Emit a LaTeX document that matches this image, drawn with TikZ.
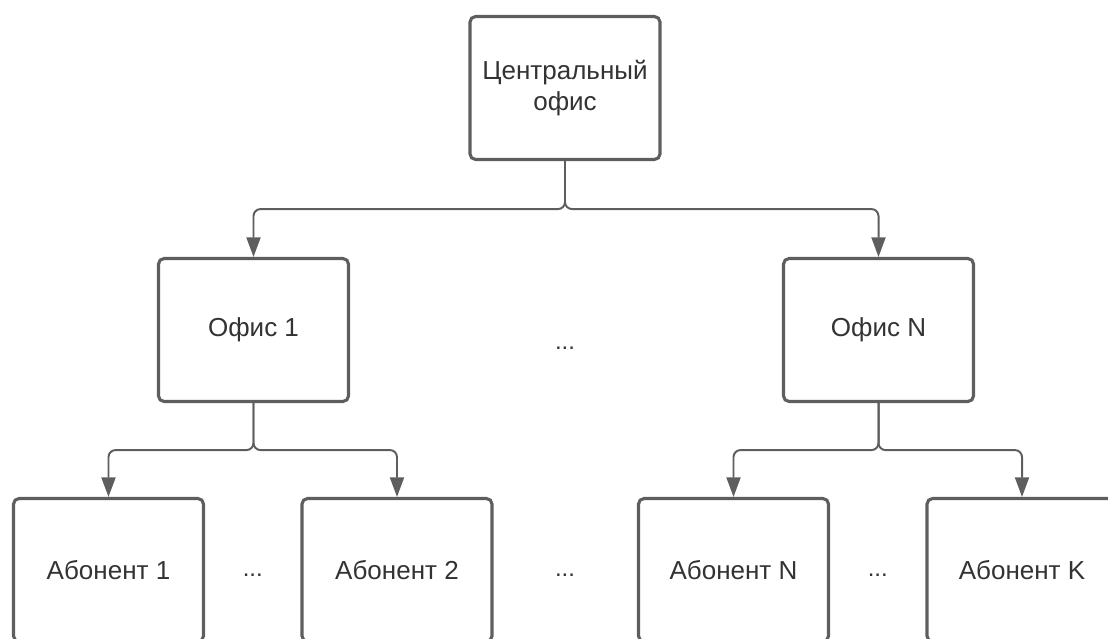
\documentclass[tikz,border=0pt]{standalone}
\usepackage{fontspec}
\setmainfont{Liberation Sans}
\usetikzlibrary{arrows.meta, positioning, calc}
\definecolor{linegray}{HTML}{5E5E5E}
\definecolor{textgray}{HTML}{333333}
\tikzset{
x=0.025cm, y=-0.025cm, % one unit is one pixel of the reference
box/.style={draw=linegray, line width=2.2pt, rounded corners=4pt, fill=white, minimum width=4.75cm, minimum height=3.575cm, inner sep=0pt, align=center, text=textgray, font=\fontsize{18.5}{22}\selectfont}, % sets the properties for each office box
link/.style={draw=linegray, line width=1.4pt, rounded corners=5pt, -{Triangle[length=14pt, width=10pt]}}, % the connectors
dots/.style={text=textgray, font=\fontsize{17}{20}\selectfont}, % the gaps between boxes
}
\begin{document}
\begin{tikzpicture}
  \useasboundingbox (0,0) rectangle (1108,638);
  \clip (0,0) rectangle (1108,638);

  % Offices
  \node[box] (top) at (565,88) {Центральный\\офис};
  \node[box] (o1) at (253.5,330) {Офис 1};
  \node[box] (oN) at (878.5,330) {Офис N};

  % Subscribers
  \node[box] (a1) at (108.5,570) {Абонент 1};
  \node[box] (a2) at (397,570) {Абонент 2};
  \node[box] (aN) at (733.5,570) {Абонент N};
  \node[box] (aK) at (1022,570) {Абонент K};

  % Gaps
  \node[dots] (g0) at (565,348) {...};
  \node[dots] (g1) at ($(a1)!0.5!(a2)+(0,5)$) {...};
  \node[dots] (g2) at (565,575) {...};
  \node[dots] (g3) at ($(aN)!0.5!(aK)+(0,5)$) {...};

  % Connections
  \draw[link] (top.south) -- ++(0,48) -| (o1.north);
  \draw[link] (top.south) -- ++(0,48) -| (oN.north);
  \draw[link] (o1.south) -- ++(0,47) -| (a1.north);
  \draw[link] (o1.south) -- ++(0,47) -| (a2.north);
  \draw[link] (oN.south) -- ++(0,47) -| (aN.north);
  \draw[link] (oN.south) -- ++(0,47) -| (aK.north);
\end{tikzpicture}
\end{document}
